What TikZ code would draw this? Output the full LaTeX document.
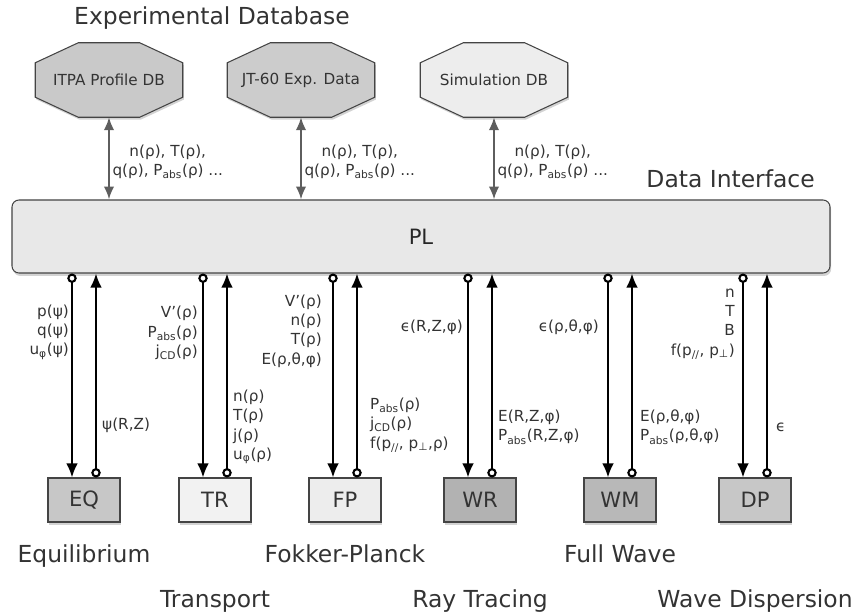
\documentclass[tikz,border=0pt]{standalone}
\usepackage{fontspec}
\setmainfont{DejaVu Sans}
\usetikzlibrary{positioning,arrows.meta,shadows,backgrounds}

\definecolor{edgegray}{HTML}{444444}
\definecolor{textgray}{HTML}{333333}
\definecolor{linkgray}{HTML}{5E5E5E}

\begin{document}
\begin{tikzpicture}[x=0.03cm, y=-0.03cm,
        db/.style={rectangle, minimum width=4.41cm, minimum height=2.22cm, text=textgray,
            font=\fontsize{13}{15}\selectfont},
        dbshape/.style={draw=edgegray, line width=0.9pt,
            drop shadow={shadow xshift=1pt, shadow yshift=-2pt, opacity=0.35}},
        module/.style={rectangle, minimum width=2.16cm, minimum height=1.32cm,
            draw=edgegray, line width=0.9pt, text=textgray,
            font=\fontsize{18}{20}\selectfont,
            drop shadow={shadow xshift=1pt, shadow yshift=-2.5pt, opacity=0.35}},
        caption/.style={text=textgray, inner sep=0, text height=15pt, text depth=4pt,
            font=\fontsize{20}{22}\selectfont},
        lbl/.style={text=textgray, inner sep=0, font=\fontsize{13}{16.5}\selectfont},
        flow/.style={line width=1.8pt,
            {Circle[open,length=8pt,width=8pt]}-{Latex[length=12pt,width=10pt]}},
        dblink/.style={line width=2pt, draw=linkgray,
            {Latex[length=11pt,width=9pt]}-{Latex[length=11pt,width=9pt]}}]
        \useasboundingbox (0,0) rectangle (857,616);

        \node[caption] (expdb) at (212,18) {Experimental Database};
        \node[db] (itpa) at (109,80) {ITPA Profile DB};
        \node[db] (jt60) at (301,80) {JT-60 Exp. Data};
        \node[db] (simdb) at (494,80) {Simulation DB};

        \begin{scope}[on background layer]
            \foreach \db/\shade in {itpa/21,jt60/20,simdb/7}
                \draw[dbshape, fill=black!\shade] ([xshift=1.29cm]\db.north west)
                    -- ([xshift=-1.29cm]\db.north east) -- ([yshift=-0.6cm]\db.north east)
                    -- ([yshift=0.6cm]\db.south east) -- ([xshift=-1.29cm]\db.south east)
                    -- ([xshift=1.29cm]\db.south west) -- ([yshift=0.6cm]\db.south west)
                    -- ([yshift=-0.6cm]\db.north west) -- cycle;
        \end{scope}

        \node[rectangle, rounded corners=6pt, minimum width=24.54cm, minimum height=2.19cm,
            draw=edgegray, line width=0.9pt, fill=black!9, text=black!85,
            font=\fontsize{18}{20}\selectfont,
            drop shadow={shadow xshift=1pt, shadow yshift=-2.5pt, opacity=0.35}] (pl) at (421,236.5) {PL};
        \node[caption, anchor=east] (dataif) at (815,181) {Data Interface};

        \foreach \db in {itpa,jt60,simdb} {
            \draw[dblink] (\db.south) -- (\db.south |- pl.north);
            \node[lbl, align=center, anchor=west] at ([xshift=0.1cm]\db.south |- 0,162)
                {n(ρ), T(ρ),\\q(ρ), P\textsubscript{abs}(ρ) ...};
        }

        \node[module, fill=black!22] (eq) at (84,500) {EQ};
        \node[module, fill=black!5] (tr) at (215,500) {TR};
        \node[module, fill=black!7] (fp) at (345,500) {FP};
        \node[module, fill=black!30] (wr) at (480,500) {WR};
        \node[module, fill=black!28] (wm) at (620,500) {WM};
        \node[module, fill=black!22] (dp) at (755,500) {DP};

        \foreach \m in {eq,tr,fp,wr,wm,dp} {
            \draw[flow] ([xshift=-0.36cm]\m.north |- pl.south) -- ([xshift=-0.36cm]\m.north);
            \draw[flow] ([xshift=0.36cm]\m.north) -- ([xshift=0.36cm]\m.north |- pl.south);
        }

        \node[caption, below=0.66cm of eq] {Equilibrium};
        \node[caption, below=2.02cm of tr] {Transport};
        \node[caption, below=0.66cm of fp] {Fokker-Planck};
        \node[caption, below=2.02cm of wr] {Ray Tracing};
        \node[caption, below=0.66cm of wm] {Full Wave};
        \node[caption, below=2.02cm of dp] {Wave Dispersion};

        \node[lbl, align=right, anchor=east] at (69,332) {p(ψ)\\q(ψ)\\u\textsubscript{φ}(ψ)};
        \node[lbl, anchor=west] at (102,425) {ψ(R,Z)};
        \node[lbl, align=right, anchor=east] at (198,333) {V'(ρ)\\P\textsubscript{abs}(ρ)\\j\textsubscript{CD}(ρ)};
        \node[lbl, align=left, anchor=west] at (233,427) {n(ρ)\\T(ρ)\\j(ρ)\\u\textsubscript{φ}(ρ)};
        \node[lbl, align=right, anchor=east] at (322,331) {V'(ρ)\\n(ρ)\\T(ρ)\\E(ρ,θ,φ)};
        \node[lbl, align=left, anchor=west] at (370,425) {P\textsubscript{abs}(ρ)\\j\textsubscript{CD}(ρ)\\f(p\textsubscript{//}, p\textsubscript{⊥},ρ)};
        \node[lbl, anchor=east] at (463,327) {ϵ(R,Z,φ)};
        \node[lbl, align=left, anchor=west] at (498,427) {E(R,Z,φ)\\P\textsubscript{abs}(R,Z,φ)};
        \node[lbl, anchor=east] at (599,327) {ϵ(ρ,θ,φ)};
        \node[lbl, align=left, anchor=west] at (640,427) {E(ρ,θ,φ)\\P\textsubscript{abs}(ρ,θ,φ)};
        \node[lbl, align=right, anchor=east] at (735,324) {n\\T\\B\\f(p\textsubscript{//}, p\textsubscript{⊥})};
        \node[lbl, anchor=west] at (776,427) {ϵ};
    \end{tikzpicture}
\end{document}
